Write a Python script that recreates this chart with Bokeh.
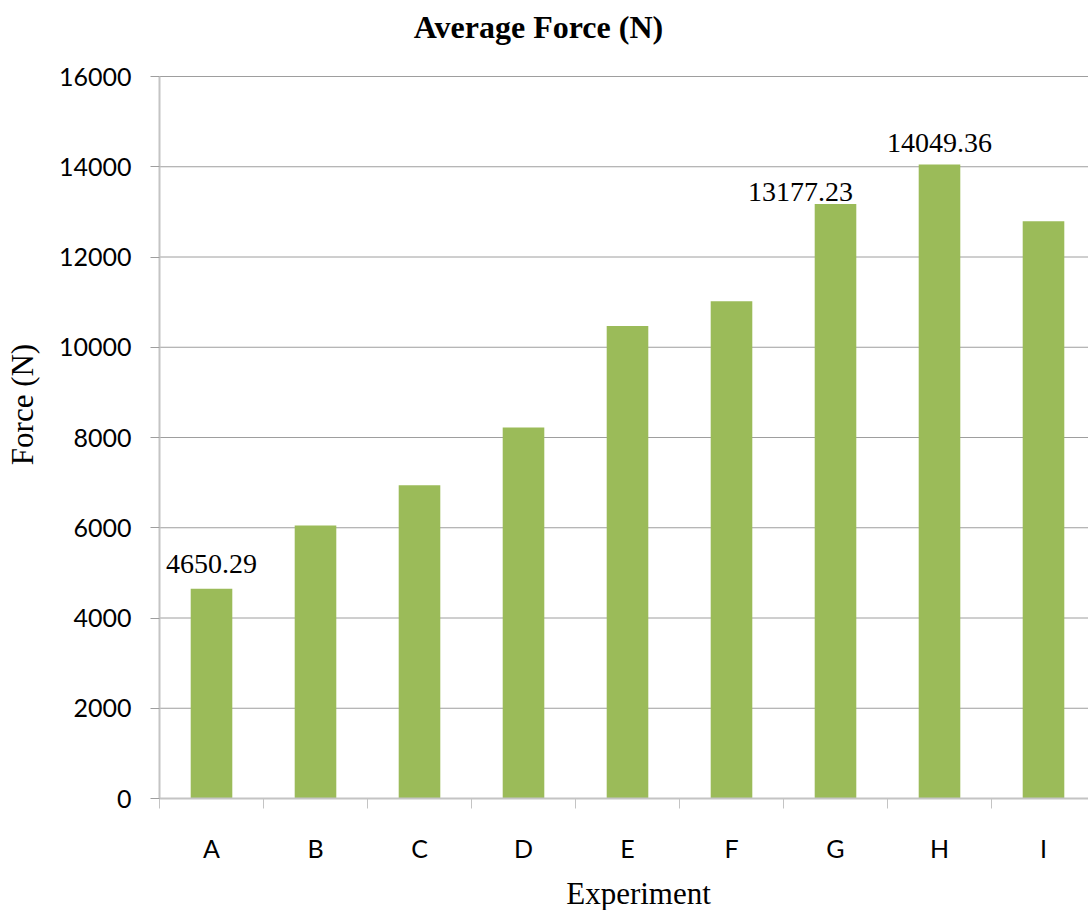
import math
from bokeh.plotting import figure
from bokeh.models import (ColumnDataSource, Range1d, FixedTicker, LabelSet, Label)
from bokeh.core.properties import value
from bokeh.embed import file_html
from bokeh.resources import INLINE

# Average force per experiment
experiments = ["A", "B", "C", "D", "E", "F", "G", "H", "I"]
force = [4650.29, 6050, 6940, 8220, 10470, 11020, 13177.23, 14049.36, 12790]

# values printed above selected bars
labelled = ["A", "G", "H"]
y_ticks = [0, 2000, 4000, 6000, 8000, 10000, 12000, 14000, 16000]
y_max = 16000

# page geometry (px): the plotting frame covers the whole page and the axes
# are pinned at x=0 / y=0, so titles can be placed freely as labels
W, H = 1088, 910
origin_x, origin_y = 159, 798          # where (0, 0) sits on the page
top_px = 76                            # where y_max sits
cat_px = 104                           # width of one category
px_per_unit = (origin_y - top_px) / y_max

x_range = Range1d(-origin_x / cat_px, (W - origin_x) / cat_px)
y_range = Range1d(-(H - origin_y) / px_per_unit, origin_y / px_per_unit)

centers = [i + 0.5 for i in range(len(experiments))]
src = ColumnDataSource(dict(x=centers, top=force, name=experiments))

lab_idx = [experiments.index(e) for e in labelled]
lab_src = ColumnDataSource(dict(
    x=[centers[i] for i in lab_idx],
    y=[force[i] for i in lab_idx],
    text=["%.2f" % force[i] for i in lab_idx],
    dx=[0, -35, 0],
    dy=[16, 3, 13],
))

p = figure(width=W, height=H, output_backend="svg", toolbar_location=None,
           x_range=x_range, y_range=y_range,
           min_border_left=0, min_border_right=0, min_border_top=0,
           min_border_bottom=0)
p.outline_line_color = None
p.background_fill_color = "white"
p.border_fill_color = "white"
p.xgrid.visible = False
p.ygrid.visible = False

# horizontal gridlines at the value ticks
grid_src = ColumnDataSource(dict(y=y_ticks, x0=[0] * len(y_ticks),
                                 x1=[len(experiments)] * len(y_ticks)))
p.segment(x0="x0", x1="x1", y0="y", y1="y", source=grid_src,
          line_color="#9e9e9e", line_width=1)

p.vbar(x="x", top="top", width=0.4, source=src, fill_color="#9bbb59",
       line_color=None)

p.add_layout(LabelSet(x="x", y="y", text="text", source=lab_src,
                      x_offset="dx", y_offset="dy",
                      text_align="center", text_baseline="alphabetic",
                      text_font=value("Liberation Serif"),
                      text_font_size="28px", text_color="black"))

# y axis
ya = p.yaxis[0]
ya.fixed_location = 0
ya.bounds = (0, y_max)
ya.ticker = FixedTicker(ticks=y_ticks)
ya.axis_line_color = "#c4c4c4"
ya.axis_line_width = 2
ya.major_tick_line_color = "#9e9e9e"
ya.major_tick_out = 9
ya.major_tick_in = 0
ya.minor_tick_line_color = None
ya.major_label_standoff = 19
ya.major_label_text_font = "Lato"
ya.major_label_text_font_size = "25px"
ya.major_label_text_color = "black"

# x axis: labels at category centres, ticks on category boundaries
xa = p.xaxis[0]
xa.fixed_location = 0
xa.bounds = (0, len(experiments))
xa.ticker = FixedTicker(ticks=centers, minor_ticks=list(range(len(experiments) + 1)))
xa.major_label_overrides = {c: e for c, e in zip(centers, experiments)}
xa.axis_line_color = "#c4c4c4"
xa.axis_line_width = 2
xa.major_tick_line_color = None
xa.major_tick_out = 0
xa.major_tick_in = 0
xa.minor_tick_line_color = "#c4c4c4"
xa.minor_tick_out = 10
xa.minor_tick_in = 0
xa.major_label_standoff = 24
xa.major_label_text_font = "Lato"
xa.major_label_text_font_size = "25px"
xa.major_label_text_color = "black"

# chart title
p.add_layout(Label(x=0, y=y_max, x_offset=379, y_offset=50,
                   text="Average Force (N)", text_align="center",
                   text_baseline="alphabetic",
                   text_font="Liberation Serif", text_font_style="bold",
                   text_font_size="32px", text_color="black"))

# axis titles
p.add_layout(Label(x=0, y=0, x_offset=479, y_offset=-95,
                   text="Experiment", text_align="center",
                   text_baseline="alphabetic",
                   text_font="Liberation Serif",
                   text_font_size="31px", text_color="black"))
p.add_layout(Label(x=0, y=0, x_offset=-137, y_offset=394, angle=math.pi / 2,
                   text="Force (N)", text_align="center",
                   text_baseline="middle",
                   text_font="Liberation Serif",
                   text_font_size="31px", text_color="black"))

open("out.html", "w").write(file_html(p, INLINE))
